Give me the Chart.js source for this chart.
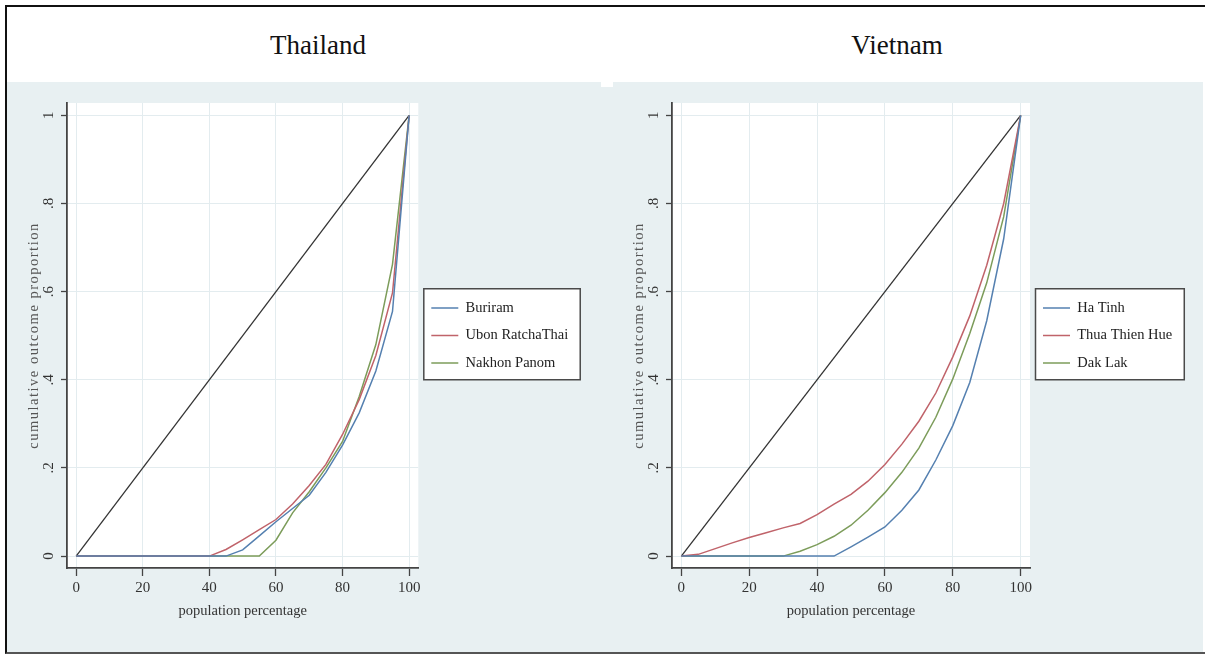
<!DOCTYPE html>
<html>
<head>
<meta charset="utf-8">
<script src="https://cdn.jsdelivr.net/npm/chart.js@4.4.1/dist/chart.umd.min.js"></script>
<style>
html,body{margin:0;padding:0;background:#fff;width:1205px;height:655px;overflow:hidden;position:relative;font-family:'Liberation Serif','Times New Roman',serif;}
.frame{position:absolute;left:5px;top:5px;width:1300px;height:645px;border:2px solid #111;border-right:none;border-bottom-color:#555;}
.bg{position:absolute;background:#e8f0f2;}
.ttl{position:absolute;top:28px;width:240px;text-align:center;font-size:27px;line-height:34px;color:#111;}
canvas{position:absolute;}
</style>
</head>
<body>
<div class="frame"></div>
<div class="bg" style="left:7px;top:82px;width:594px;height:570px;"></div>
<div class="bg" style="left:601px;top:87px;width:12px;height:565px;"></div>
<div class="bg" style="left:613px;top:82px;width:590px;height:570px;"></div>
<div class="ttl" style="left:198px;">Thailand</div>
<div class="ttl" style="left:777px;">Vietnam</div>
<canvas id="c1" width="593" height="568" style="left:7px;top:83px;"></canvas>
<canvas id="c2" width="591" height="568" style="left:612px;top:83px;"></canvas>
<script>
// ---- data ----
const popPct = [0,5,10,15,20,25,30,35,40,45,50,55,60,65,70,75,80,85,90,95,100];
const xTickValues = [0,20,40,60,80,100];
const yTickValues = [0,0.2,0.4,0.6,0.8,1];
const yTickLabels = ['0','.2','.4','.6','.8','1'];
const equalityX = [0,100];
const equalityY = [0,1];

const thaiNames = ['Buriram','Ubon RatchaThai','Nakhon Panom'];
const buriram = [0,0,0,0,0,0,0,0,0,0,0.014,0.046,0.078,0.108,0.138,0.19,0.252,0.325,0.42,0.555,1];
const ubon    = [0,0,0,0,0,0,0,0,0,0.015,0.037,0.06,0.083,0.118,0.16,0.208,0.276,0.355,0.455,0.597,1];
const nakhon  = [0,0,0,0,0,0,0,0,0,0,0,0,0.036,0.098,0.146,0.2,0.26,0.362,0.48,0.662,1];

const vietNames = ['Ha Tinh','Thua Thien Hue','Dak Lak'];
const haTinh  = [0,0,0,0,0,0,0,0,0,0,0.021,0.043,0.066,0.104,0.15,0.218,0.296,0.394,0.534,0.72,1];
const thuaThien = [0,0.004,0.017,0.03,0.042,0.053,0.064,0.074,0.094,0.118,0.14,0.17,0.208,0.254,0.306,0.37,0.452,0.545,0.66,0.8,1];
const dakLak  = [0,0,0,0,0,0,0,0.011,0.026,0.045,0.07,0.104,0.144,0.19,0.245,0.315,0.402,0.505,0.62,0.77,1];

// ---- styling ----
const seriesColors = ['#5580b0','#c0636a','#7c9c5a'];
const FONT = "'Liberation Serif','Times New Roman',serif";
Chart.defaults.font.family = FONT;

function pts(xs, ys){ return xs.map((x,i)=>({x:x, y:ys[i]})); }

const plotBg = {
  id:'plotBg',
  beforeDraw(chart){
    const a = chart.chartArea, ctx = chart.ctx;
    ctx.save(); ctx.fillStyle = '#ffffff';
    ctx.fillRect(a.left, a.top, a.right-a.left, a.bottom-a.top);
    // legend frame (drawn before the legend itself)
    const lg = chart.legend;
    if (lg && lg.legendHitBoxes && lg.legendHitBoxes.length){
      const hb = lg.legendHitBoxes;
      const left = lg.left + 5.5;
      let right = 0; hb.forEach(h=>{ right = Math.max(right, h.left + h.width); });
      right += 12;
      const top = hb[0].top - 12;
      const last = hb[hb.length-1];
      const bottom = last.top + last.height + 9.5;
      ctx.fillRect(left, top, right-left, bottom-top);
      ctx.strokeStyle = '#4a4a4a'; ctx.lineWidth = 1.5;
      ctx.strokeRect(left, top, right-left, bottom-top);
    }
    ctx.restore();
  }
};

function spacedTitle(s){
  if (s._spaced) return;
  const orig = s.drawTitle.bind(s);
  s.drawTitle = function(){ const c = this.ctx; c.save(); c.letterSpacing = '1.5px'; orig(); c.restore(); };
  s._spaced = true;
}

function makeChart(id, names, series, targetRight){
  const datasets = names.map((n,i)=>({
    label:n, data:pts(popPct, series[i]), borderColor:seriesColors[i], backgroundColor:seriesColors[i],
    borderWidth:1.5, pointRadius:0, tension:0, fill:false
  }));
  datasets.push({label:'equality', data:pts(equalityX, equalityY), borderColor:'#333333', backgroundColor:'#333333',
    borderWidth:1.3, pointRadius:0, tension:0, fill:false});
  const canvas = document.getElementById(id);
  const chart = new Chart(canvas, {
    type:'line',
    data:{datasets:datasets},
    plugins:[plotBg],
    options:{
      responsive:false, animation:false, devicePixelRatio:1, events:[],
      layout:{padding:{left:0, top:20, right:20, bottom:0}},
      plugins:{
        title:{display:false}, tooltip:{enabled:false},
        legend:{display:true, position:'right', align:'center', fullSize:false, maxWidth:300,
          labels:{usePointStyle:true, pointStyle:'line', pointStyleWidth:27, padding:13,
            font:{size:14.5, family:FONT}, color:'#222',
            filter:(item)=> item.datasetIndex < names.length}
        }
      },
      scales:{
        x:{type:'linear', min:-2.75, max:102.75,
          afterBuildTicks:(s)=>{ s.ticks = xTickValues.map(v=>({value:v})); },
          afterFit:(s)=>{ s.height = 83; },
          grid:{color:'#e3ecef', lineWidth:1, drawTicks:true, tickLength:8, tickColor:'#444', tickWidth:1.3},
          border:{display:true, color:'#444', width:1.8},
          ticks:{font:{size:15}, color:'#333', padding:3, maxRotation:0, minRotation:0, autoSkip:false,
            callback:(v)=>String(v)},
          title:{display:true, text:'population percentage', font:{size:14.5}, color:'#333', padding:{top:0,bottom:31.3}}
        },
        y:{type:'linear', min:-0.027, max:1.028,
          afterBuildTicks:(s)=>{ s.ticks = yTickValues.map(v=>({value:v})); },
          afterFit:(s)=>{ s.width = 60; spacedTitle(s); },
          grid:{color:'#e3ecef', lineWidth:1, drawTicks:true, tickLength:6, tickColor:'#444', tickWidth:1.3},
          border:{display:true, color:'#444', width:1.8},
          ticks:{font:{size:15}, color:'#333', padding:6, minRotation:90, maxRotation:90, crossAlign:'center', autoSkip:false,
            callback:(v,i)=>yTickLabels[i]},
          title:{display:true, text:'cumulative outcome proportion', font:{size:14.5}, color:'#555', padding:{top:18.3,bottom:0}}
        }
      }
    }
  });
  for (let k=0;k<4;k++){
    const d = chart.chartArea.right - targetRight;
    if (Math.abs(d) < 0.2) break;
    chart.options.layout.padding.right += d;
    chart.update('none');
  }
  chart.update('none');
  return chart;
}

makeChart('c1', thaiNames, [buriram, ubon, nakhon], 411.3);
makeChart('c2', vietNames, [haTinh, thuaThien, dakLak], 418);
</script>
</body>
</html>
